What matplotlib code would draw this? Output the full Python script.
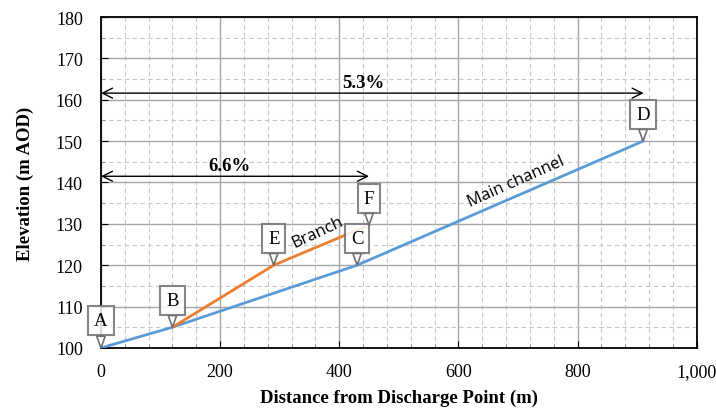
import matplotlib
matplotlib.use('Agg')
import matplotlib.pyplot as plt
from matplotlib.ticker import MultipleLocator, FuncFormatter

# 하천 종단 데이터
main_x = [0, 120, 430, 910]
main_y = [100, 105, 120, 150]
branch_x = [120, 290, 450]
branch_y = [105, 120, 129.7]

# 지점 라벨
point_names = ['A', 'B', 'C', 'D', 'E', 'F']
point_x = [0, 120, 430, 910, 290, 450]
point_y = [100, 105, 120, 150, 120, 129.7]

# 경사 화살표
slope_labels = ['5.3%', '6.6%']
slope_end_x = [911, 450]
slope_y = [161.6, 141.5]
slope_text_x = [440, 215]

plt.rcParams['font.family'] = ['Liberation Serif', 'DejaVu Serif']

fig = plt.figure(figsize=(7.16, 4.10), dpi=100)
ax = fig.add_axes([0.141, 0.149, 0.832, 0.807])

ax.plot(main_x, main_y, color='#5B9BD5', lw=2.0, solid_capstyle='round', zorder=3)
ax.plot(branch_x, branch_y, color='#ED7D31', lw=2.0, solid_capstyle='round', zorder=3)

ax.set_xlim(0, 1000)
ax.set_ylim(100, 180)
ax.xaxis.set_major_locator(MultipleLocator(200))
ax.xaxis.set_minor_locator(MultipleLocator(40))
ax.yaxis.set_major_locator(MultipleLocator(10))
ax.yaxis.set_minor_locator(MultipleLocator(5))
ax.xaxis.set_major_formatter(FuncFormatter(lambda v, p: f'{v:,.0f}'))

ax.grid(which='major', color='#A6A6A6', lw=1.0, ls='-', zorder=0)
ax.grid(which='minor', color='#C8C8C8', lw=0.8, ls=(0, (4, 3)), zorder=0)
ax.set_axisbelow(True)
ax.tick_params(which='both', direction='in', labelsize=13)
ax.tick_params(axis='x', which='major', pad=11)
ax.tick_params(axis='y', which='major', pad=13)
ax.tick_params(which='major', length=5)
ax.tick_params(which='minor', length=3, color='#888888')
for s in ax.spines.values():
    s.set_linewidth(1.3)

ax.set_xlabel('Distance from Discharge Point (m)', fontsize=13.5, fontweight='bold', labelpad=6)
ax.set_ylabel('Elevation (m AOD)', fontsize=13.5, fontweight='bold', labelpad=16)

# 경사 표시 화살표
for lab, ex, ey, tx in zip(slope_labels, slope_end_x, slope_y, slope_text_x):
    ax.annotate('', xy=(0, ey), xytext=(ex, ey),
                arrowprops=dict(arrowstyle='<->', color='black', lw=1.0,
                                shrinkA=0, shrinkB=0, mutation_scale=18), zorder=4)
    ax.text(tx, ey + 0.5, lab, fontsize=13.5, fontweight='bold', ha='center', va='bottom', zorder=4)

# 지점 콜아웃
for name, px, py in zip(point_names, point_x, point_y):
    ax.annotate(name, xy=(px, py), xytext=(0, 27), textcoords='offset pixels',
                ha='center', va='center', fontsize=13.5, zorder=5,
                bbox=dict(boxstyle='square,pad=0.32', fc='white', ec='#707070', lw=1.5, alpha=0.85),
                arrowprops=dict(arrowstyle='wedge,tail_width=0.45,shrink_factor=0.5',
                                fc='white', ec='#707070', lw=1.2, shrinkA=0, shrinkB=0))

# 선 라벨
ax.text(696, 140.3, 'Main channel', fontsize=12, family=['Open Sans', 'DejaVu Sans'],
        rotation=24, ha='center', va='center', rotation_mode='anchor', zorder=4)
ax.text(364, 128.2, 'Branch', fontsize=12, family=['Open Sans', 'DejaVu Sans'],
        rotation=25, ha='center', va='center', rotation_mode='anchor', zorder=4)

fig.savefig('out.png', dpi=100)
